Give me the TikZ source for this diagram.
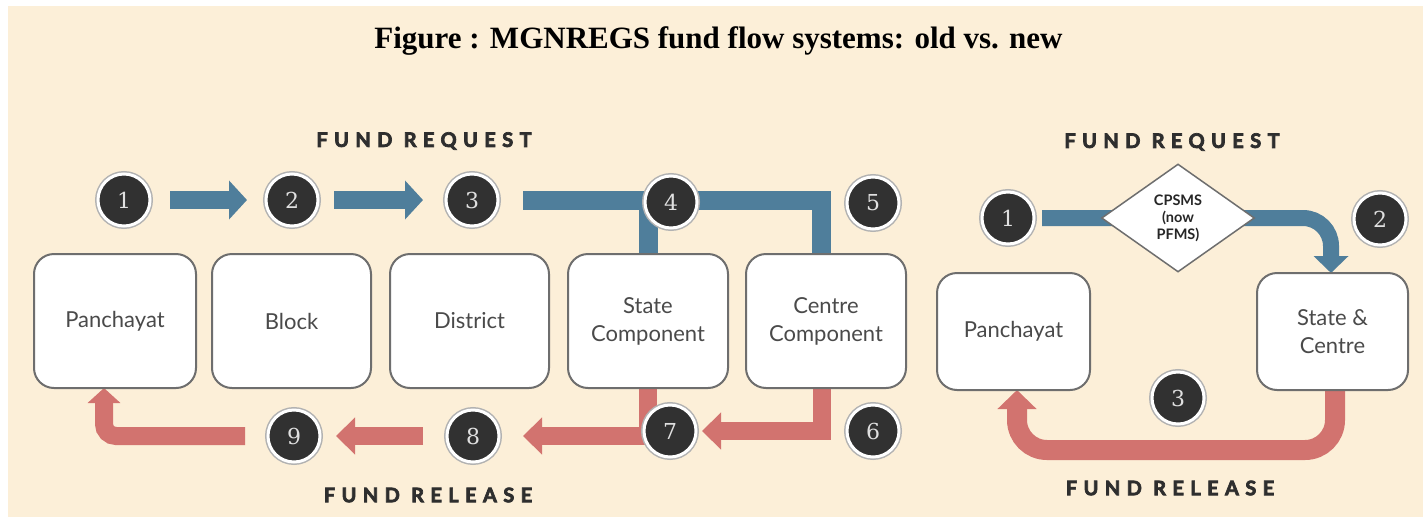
\documentclass[tikz,border=0pt]{standalone}
\usepackage{fontspec}
\setmainfont{Liberation Serif}
\newfontfamily\boxfont{Lato}
\newfontfamily\headfont{Lato}[LetterSpace=32, FakeBold=3.5]
\newfontfamily\numfont{DejaVu Serif}
\usetikzlibrary{arrows.meta,shapes.geometric}
\definecolor{cream}{HTML}{FCEFD8}
\definecolor{flowblue}{HTML}{4F7E9B}
\definecolor{flowred}{HTML}{D2736F}
\definecolor{boxline}{HTML}{6E6E6E}
\definecolor{disc}{HTML}{313131}
\definecolor{txt}{HTML}{4A4A4A}
\pgfdeclarelayer{back}
\pgfdeclarelayer{bg}
\pgfsetlayers{back,bg,main}
\begin{document}
\begin{tikzpicture}[x=1pt,y=-1pt,
  stage/.style={draw=boxline, line width=2pt, fill=white, rounded corners=20pt,
    inner sep=0pt, outer sep=0pt, minimum width=160pt, minimum height=134pt,
    align=center, text=txt, font=\boxfont\fontsize{22}{28}\selectfont},
  num/.style={circle, fill=disc, draw=white, line width=3pt, minimum size=52pt,
    inner sep=0pt, outer sep=0pt, preaction={draw=black!30, line width=6pt},
    text=black!12, font=\numfont\fontsize{22}{22}\selectfont},
  head/.style={font=\headfont\bfseries\fontsize{20}{20}\selectfont, text=black!82, inner sep=0pt},
  bluearrow/.style={draw=flowblue, line width=18pt, -{Triangle[width=38pt,length=18pt]}},
  bluebar/.style={draw=flowblue, line width=19pt, line join=miter},
  redarrow/.style={draw=flowred, line width=18pt, -{Triangle[width=36pt,length=19pt]}},
  upred/.style={draw=flowred, line width=18pt, -{Triangle[width=32pt,length=15pt]}}
]
\useasboundingbox (0,0) rectangle (1423,517);
\begin{pgfonlayer}{back}
  \fill[cream] (8,6) rectangle (1423,517);
\end{pgfonlayer}

\node[font=\bfseries\fontsize{31}{31}\selectfont, anchor=base, inner sep=0pt] (title) at (718.5,48)
  {Figure : MGNREGS fund flow systems: old vs. new};

% old system
\node[head] (reqL) at (424,141) {FUND REQUEST};
\node[head] (relL) at (428,495) {FUND RELEASE};

\node[stage, minimum width=162pt] (p1) at (115,321) {Panchayat};
\node[stage, minimum width=159pt] (bl) at (291.5,321) {Block};
\node[stage, minimum width=159pt] (di) at (469.5,321) {District};
\node[stage] (st) at (648,321) {State\\Component};
\node[stage] (ce) at (826,321) {Centre\\Component};

\node[num] (n1) at (124,200) {1};
\node[num] (n2) at (292,200) {2};
\node[num] (n3) at (472,200) {3};
\node[num] (n4) at (671,202) {4};
\node[num] (n5) at (873,203) {5};
\node[num] (n6) at (873,431) {6};
\node[num] (n7) at (670,431) {7};
\node[num] (n8) at (473,436) {8};
\node[num] (n9) at (294,436) {9};

% new system
\node[head] (reqR) at (1172,142) {FUND REQUEST};
\node[head] (relR) at (1170,488) {FUND RELEASE};

\node[stage, minimum width=153pt, minimum height=117pt] (p2) at (1013.5,331.5) {Panchayat};
\node[stage, minimum width=151pt, minimum height=117pt] (sc) at (1332.5,331.5) {State \&\\Centre};
\node[diamond, draw=boxline, line width=1.5pt, fill=white, minimum width=153pt,
  minimum height=108pt, aspect=1.42, inner sep=0pt, align=center, text=black!85,
  font=\boxfont\bfseries\fontsize{14.5}{17}\selectfont] (dm) at (1178,218) {CPSMS\\(now\\PFMS)};

\node[num] (r1) at (1008,218) {1};
\node[num] (r2) at (1380,219) {2};
\node[num] (r3) at (1178,398) {3};
\coordinate (rb) at (1178,450);

\begin{pgfonlayer}{bg}
  % fund request (old)
  \draw[bluearrow] ([xshift=20pt]n1.east) -- ([xshift=-19pt]n2.west);
  \draw[bluearrow] ([xshift=16pt]n2.east) -- ([xshift=-23pt]n3.west);
  \draw[bluebar] ([xshift=25pt]n3.east) -| ([xshift=-5pt]ce.north);
  \draw[bluebar] (st.north) -- (st.north |- n3.east);
  % fund release (old)
  \draw[redarrow] ([xshift=-4pt]ce.south) |- ([xshift=6pt]n7.east);
  \draw[redarrow] (st.south) |- ([xshift=24pt]n8.east);
  \draw[redarrow] ([xshift=-24pt]n8.west) -- ([xshift=16pt]n9.east);
  \draw[upred, rounded corners=12pt] ([xshift=-23pt]n9.west) -| ([xshift=-11pt]p1.south);
  % new system
  \draw[draw=flowblue, line width=16pt, rounded corners=28pt, -{Triangle[width=34pt,length=17pt]}]
    ([xshift=8pt]r1.east) -| ([xshift=-1.5pt]sc.north);
  \draw[draw=flowred, line width=20pt, rounded corners=30pt, -{Triangle[width=38pt,length=19pt]}]
    ([xshift=2.5pt]sc.south) |- (rb) -| ([xshift=3.5pt]p2.south);
\end{pgfonlayer}
\end{tikzpicture}
\end{document}
